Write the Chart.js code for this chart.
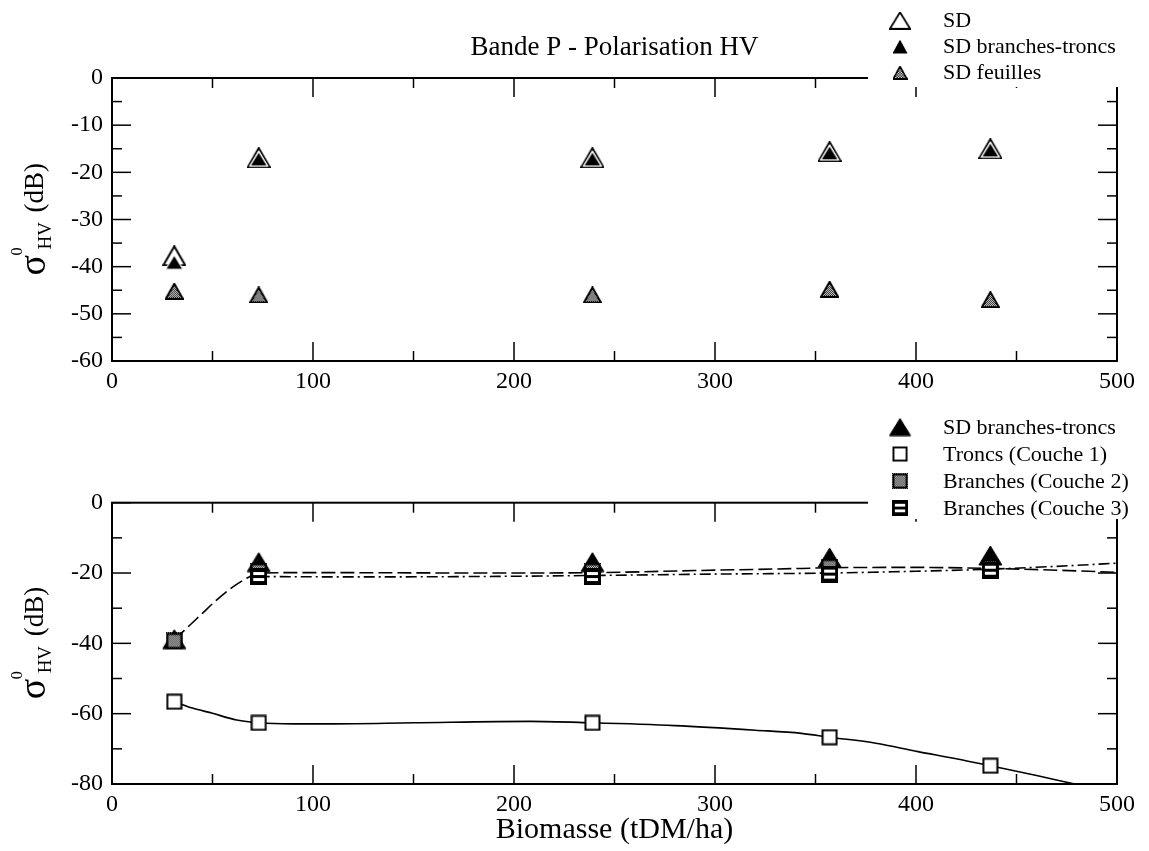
<!DOCTYPE html>
<html><head><meta charset="utf-8">
<script src="https://cdn.jsdelivr.net/npm/chart.js@4.4.1/dist/chart.umd.min.js"></script>
<style>
html,body{margin:0;padding:0;background:#fff;}
#wrap{position:relative;width:1149px;height:851px;overflow:hidden;}
canvas{position:absolute;left:0;}
#c1{top:0;} #c2{top:394px;}
</style></head><body>
<div id="wrap"><canvas id="c1" width="1149" height="394"></canvas><canvas id="c2" width="1149" height="457"></canvas></div>
<script>
// ---------- data ----------
const biomass = [31, 73, 239, 357, 437];
const sdTotal = [-37.7, -16.9, -16.9, -15.6, -15.0];
const sdBranchesTroncs = [-38.8, -16.9, -16.9, -15.6, -15.0];
const sdFeuilles = [-45.2, -46.0, -46.0, -44.8, -47.0];
const troncsC1 = [-56.6, -62.6, -62.6, -66.7, -74.8];
const branchesC2 = [-39.3, -19.5, -19.5, -18.3, -18.5];
const biomassC3 = [73, 239, 357, 437];
const branchesC3 = [-21.0, -21.0, -20.3, -19.2];
// fitted curves
const fitC1X = [31, 40, 50, 62, 73, 90, 110, 150, 208, 239, 280, 320, 343, 357, 380, 401, 420, 437, 460, 479, 500];
const fitC1Y = [-56.6, -58.4, -59.9, -61.8, -62.6, -62.9, -62.9, -62.6, -62.2, -62.6, -63.4, -64.7, -65.6, -66.7, -68.4, -70.8, -72.8, -74.8, -77.6, -80.0, -82.6];
const fitC2X = [31, 36, 44, 52, 60, 67, 73, 85, 120, 180, 239, 290, 343, 357, 400, 437, 470, 500];
const fitC2Y = [-39.0, -36.3, -32.0, -27.7, -24.0, -21.5, -20.1, -19.9, -19.9, -20.0, -19.9, -19.3, -18.7, -18.5, -18.4, -18.7, -19.2, -19.8];
const fitC3X = [73, 120, 180, 239, 300, 343, 357, 400, 437, 470, 500];
const fitC3Y = [-21.0, -21.1, -21.0, -20.7, -20.3, -20.1, -20.0, -19.5, -18.9, -18.1, -17.2];
const xTicks = [0, 100, 200, 300, 400, 500];
const yTicksTop = [0, -10, -20, -30, -40, -50, -60];
const yTicksBottom = [0, -20, -40, -60, -80];
const legendTopLabels = ['SD', 'SD branches-troncs', 'SD feuilles'];
const legendBottomLabels = ['SD branches-troncs', 'Troncs (Couche 1)', 'Branches (Couche 2)', 'Branches (Couche 3)'];
const titleText = 'Bande P - Polarisation HV';
const xTitleText = 'Biomasse (tDM/ha)';

// ---------- markers ----------
const FONT = '"Liberation Serif", "Times New Roman", serif';
function mk(w, h, draw) { const c = document.createElement('canvas'); c.width = w; c.height = h; draw(c.getContext('2d'), w, h); return c; }
function triPath(ctx, w, h, inset) { inset = inset || 0; ctx.beginPath(); ctx.moveTo(w / 2, 1 + inset * 1.6); ctx.lineTo(w - 1 - inset, h - 1 - inset * 0.5); ctx.lineTo(1 + inset, h - 1 - inset * 0.5); ctx.closePath(); }
function stip(ctx, w, h) { for (let y = 0; y < h; y++) for (let x = 0; x < w; x++) if ((x + y) % 2 === 0) ctx.fillRect(x, y, 1, 1); }
const mHollowTri = mk(24, 21, (c, w, h) => { triPath(c, w, h); c.fillStyle = '#fff'; c.fill(); c.lineWidth = 2; c.lineJoin = 'miter'; c.strokeStyle = '#000'; c.stroke(); });
const mFilledTriSmall = mk(24, 21, (c, w, h) => { triPath(c, w, h, 2.1); c.fillStyle = '#000'; c.fill(); c.lineWidth = 1.2; c.strokeStyle = '#fff'; c.stroke(); });
const mFeuilles = mk(19, 17, (c, w, h) => { triPath(c, w, h); c.fillStyle = '#fff'; c.fill(); c.save(); c.clip(); c.fillStyle = '#000'; stip(c, w, h); c.restore(); c.lineWidth = 2; c.strokeStyle = '#000'; c.stroke(); });
const mBigTri = mk(25, 21, (c, w, h) => { triPath(c, w, h); c.fillStyle = '#000'; c.fill(); c.lineWidth = 1; c.strokeStyle = '#000'; c.stroke(); });
const mSquare = mk(17, 17, (c, w, h) => { c.fillStyle = '#fff'; c.fillRect(1, 1, w - 2, h - 2); c.lineWidth = 2; c.strokeStyle = '#000'; c.strokeRect(1.5, 1.5, w - 3, h - 3); });
const mStipSq = mk(17, 17, (c, w, h) => { c.fillStyle = '#fff'; c.fillRect(1, 1, w - 2, h - 2); c.fillStyle = '#000'; stip(c, w, h); c.lineWidth = 2; c.strokeStyle = '#000'; c.strokeRect(1.5, 1.5, w - 3, h - 3); });
const mStripeSq = mk(17, 17, (c, w, h) => { c.fillStyle = '#000'; c.fillRect(0, 0, w, h); c.fillStyle = '#fff'; c.fillRect(3, 4, w - 6, 3); c.fillRect(3, 10, w - 6, 3); });

// ---------- helpers ----------
const pts = (xs, ys) => xs.map((x, i) => ({ x: x, y: ys[i] }));
function midpoints(arr) { const r = []; for (let i = 0; i < arr.length - 1; i++) r.push((arr[i] + arr[i + 1]) / 2); return r; }

const framePlugin = {
  id: 'frame',
  afterDatasetsDraw(chart, args, opts) {
    const ctx = chart.ctx, a = chart.chartArea, xs = chart.scales.x, ys = chart.scales.y;
    ctx.save();
    ctx.strokeStyle = '#000';
    const seg = (x1, y1, x2, y2) => { ctx.beginPath(); ctx.moveTo(x1, y1); ctx.lineTo(x2, y2); ctx.stroke(); };
    ctx.lineWidth = 1.5;
    const MJ = 19, MN = 10;
    xTicks.forEach(v => { const p = xs.getPixelForValue(v); seg(p, a.bottom, p, a.bottom - MJ); seg(p, a.top, p, a.top + MJ); });
    midpoints(xTicks).forEach(v => { const p = xs.getPixelForValue(v); seg(p, a.bottom, p, a.bottom - MN); seg(p, a.top, p, a.top + MN); });
    opts.yt.forEach(v => { const p = ys.getPixelForValue(v); seg(a.left, p, a.left + MJ, p); seg(a.right, p, a.right - MJ, p); });
    midpoints(opts.yt).forEach(v => { const p = ys.getPixelForValue(v); seg(a.left, p, a.left + MN, p); seg(a.right, p, a.right - MN, p); });
    ctx.lineWidth = 2;
    ctx.strokeRect(a.left, a.top, a.right - a.left, a.bottom - a.top);
    ctx.restore();
  }
};

const decoPlugin = {
  id: 'deco',
  afterDraw(chart, args, o) {
    const ctx = chart.ctx, a = chart.chartArea;
    ctx.save();
    // legend box (white, covers frame corner)
    ctx.fillStyle = '#fff';
    ctx.fillRect(o.box[0], o.box[1], o.box[2], o.box[3]);
    ctx.fillStyle = '#000';
    ctx.font = '22px ' + FONT;
    ctx.textBaseline = 'middle';
    ctx.textAlign = 'left';
    o.items.forEach(it => {
      ctx.drawImage(it.icon, 900 - it.w / 2, it.y - it.h / 2, it.w, it.h);
      ctx.fillText(it.label, 943, it.y + 1);
    });
    // y axis title: sigma ^0 _HV (dB)
    const cy = (a.top + a.bottom) / 2 + 56;
    ctx.translate(0, cy);
    ctx.rotate(-Math.PI / 2);
    ctx.textBaseline = 'alphabetic';
    ctx.font = '38px ' + FONT; ctx.fillText('σ', 0, 45);
    ctx.font = '16px ' + FONT; ctx.fillText('0', 20, 22);
    ctx.font = '19px ' + FONT; ctx.fillText('HV', 26, 51);
    ctx.font = '27px ' + FONT; ctx.fillText('(dB)', 63, 43);
    ctx.setTransform(1, 0, 0, 1, 0, 0);
    // extra title
    if (o.title) {
      ctx.font = o.title.font + 'px ' + FONT;
      ctx.textAlign = 'center';
      ctx.textBaseline = 'middle';
      ctx.fillText(o.title.text, (a.left + a.right) / 2, o.title.y);
    }
    ctx.restore();
  }
};

function baseOptions(yMin, yTicks, padBottom, xHeight, padTop) {
  return {
    responsive: false, animation: false, events: [],
    layout: { padding: { left: 32, right: 32, top: padTop, bottom: padBottom } },
    plugins: { legend: { display: false }, tooltip: { enabled: false }, title: { display: false } },
    scales: {
      x: {
        type: 'linear', min: 0, max: 500,
        afterBuildTicks: s => { s.ticks = xTicks.map(v => ({ value: v })); },
        afterFit: s => { s.height = xHeight; },
        grid: { display: false, drawTicks: false }, border: { display: false },
        ticks: { padding: 6, color: '#000', font: { family: FONT, size: 24 }, maxRotation: 0, autoSkip: false }
      },
      y: {
        type: 'linear', min: yMin, max: 0,
        afterBuildTicks: s => { s.ticks = yTicks.map(v => ({ value: v })); },
        afterFit: s => { s.width = 80; },
        grid: { display: false, drawTicks: false }, border: { display: false },
        ticks: { padding: 9, color: '#000', font: { family: FONT, size: 24 }, autoSkip: false }
      }
    }
  };
}

// ---------- top chart ----------
const opt1 = baseOptions(-60, yTicksTop, 3, 30, 78);
opt1.plugins.frame = { yt: yTicksTop };
opt1.plugins.deco = {
  box: [868, 0, 281, 87],
  items: [
    { icon: mHollowTri, w: 22, h: 18, y: 20.5, label: legendTopLabels[0] },
    { icon: mBigTri, w: 15, h: 14, y: 46.5, label: legendTopLabels[1] },
    { icon: mFeuilles, w: 15, h: 14, y: 72.5, label: legendTopLabels[2] }
  ],
  title: { text: titleText, font: 27, y: 48 }
};
new Chart(document.getElementById('c1'), {
  type: 'scatter',
  data: {
    datasets: [
      { label: legendTopLabels[1], data: pts(biomass, sdBranchesTroncs), pointStyle: mFilledTriSmall, pointRadius: 10, order: 1 },
      { label: legendTopLabels[0], data: pts(biomass, sdTotal), pointStyle: mHollowTri, pointRadius: 10, order: 2 },
      { label: legendTopLabels[2], data: pts(biomass, sdFeuilles), pointStyle: mFeuilles, pointRadius: 9, order: 3 }
    ]
  },
  options: opt1,
  plugins: [framePlugin, decoPlugin]
});

// ---------- bottom chart ----------
const opt2 = baseOptions(-80, yTicksBottom, 7, 60, 108.7);
opt2.plugins.frame = { yt: yTicksBottom };
opt2.plugins.deco = {
  box: [868, 2, 281, 123],
  items: [
    { icon: mBigTri, w: 23, h: 19, y: 33, label: legendBottomLabels[0] },
    { icon: mSquare, w: 16, h: 16, y: 60, label: legendBottomLabels[1] },
    { icon: mStipSq, w: 16, h: 16, y: 87, label: legendBottomLabels[2] },
    { icon: mStripeSq, w: 16, h: 16, y: 114, label: legendBottomLabels[3] }
  ],
  title: { text: xTitleText, font: 30, y: 436 }
};
const lineDs = (xs, ys, dash, ord) => ({ type: 'line', data: pts(xs, ys), borderColor: '#000', borderWidth: 1.6, borderDash: dash, pointRadius: 0, fill: false, cubicInterpolationMode: 'monotone', order: ord });
new Chart(document.getElementById('c2'), {
  type: 'scatter',
  data: {
    datasets: [
      { label: legendBottomLabels[3], data: pts(biomassC3, branchesC3), pointStyle: mStripeSq, pointRadius: 9, order: 1 },
      { label: legendBottomLabels[2], data: pts(biomass, branchesC2), pointStyle: mStipSq, pointRadius: 9, order: 2 },
      { label: legendBottomLabels[1], data: pts(biomass, troncsC1), pointStyle: mSquare, pointRadius: 9, order: 3 },
      { label: legendBottomLabels[0], data: pts(biomass, sdBranchesTroncs), pointStyle: mBigTri, pointRadius: 11, order: 4 },
      lineDs(fitC1X, fitC1Y, [], 5),
      lineDs(fitC2X, fitC2Y, [14, 5], 6),
      lineDs(fitC3X, fitC3Y, [11, 4, 2, 4], 7)
    ]
  },
  options: opt2,
  plugins: [framePlugin, decoPlugin]
});
</script>
</body></html>
